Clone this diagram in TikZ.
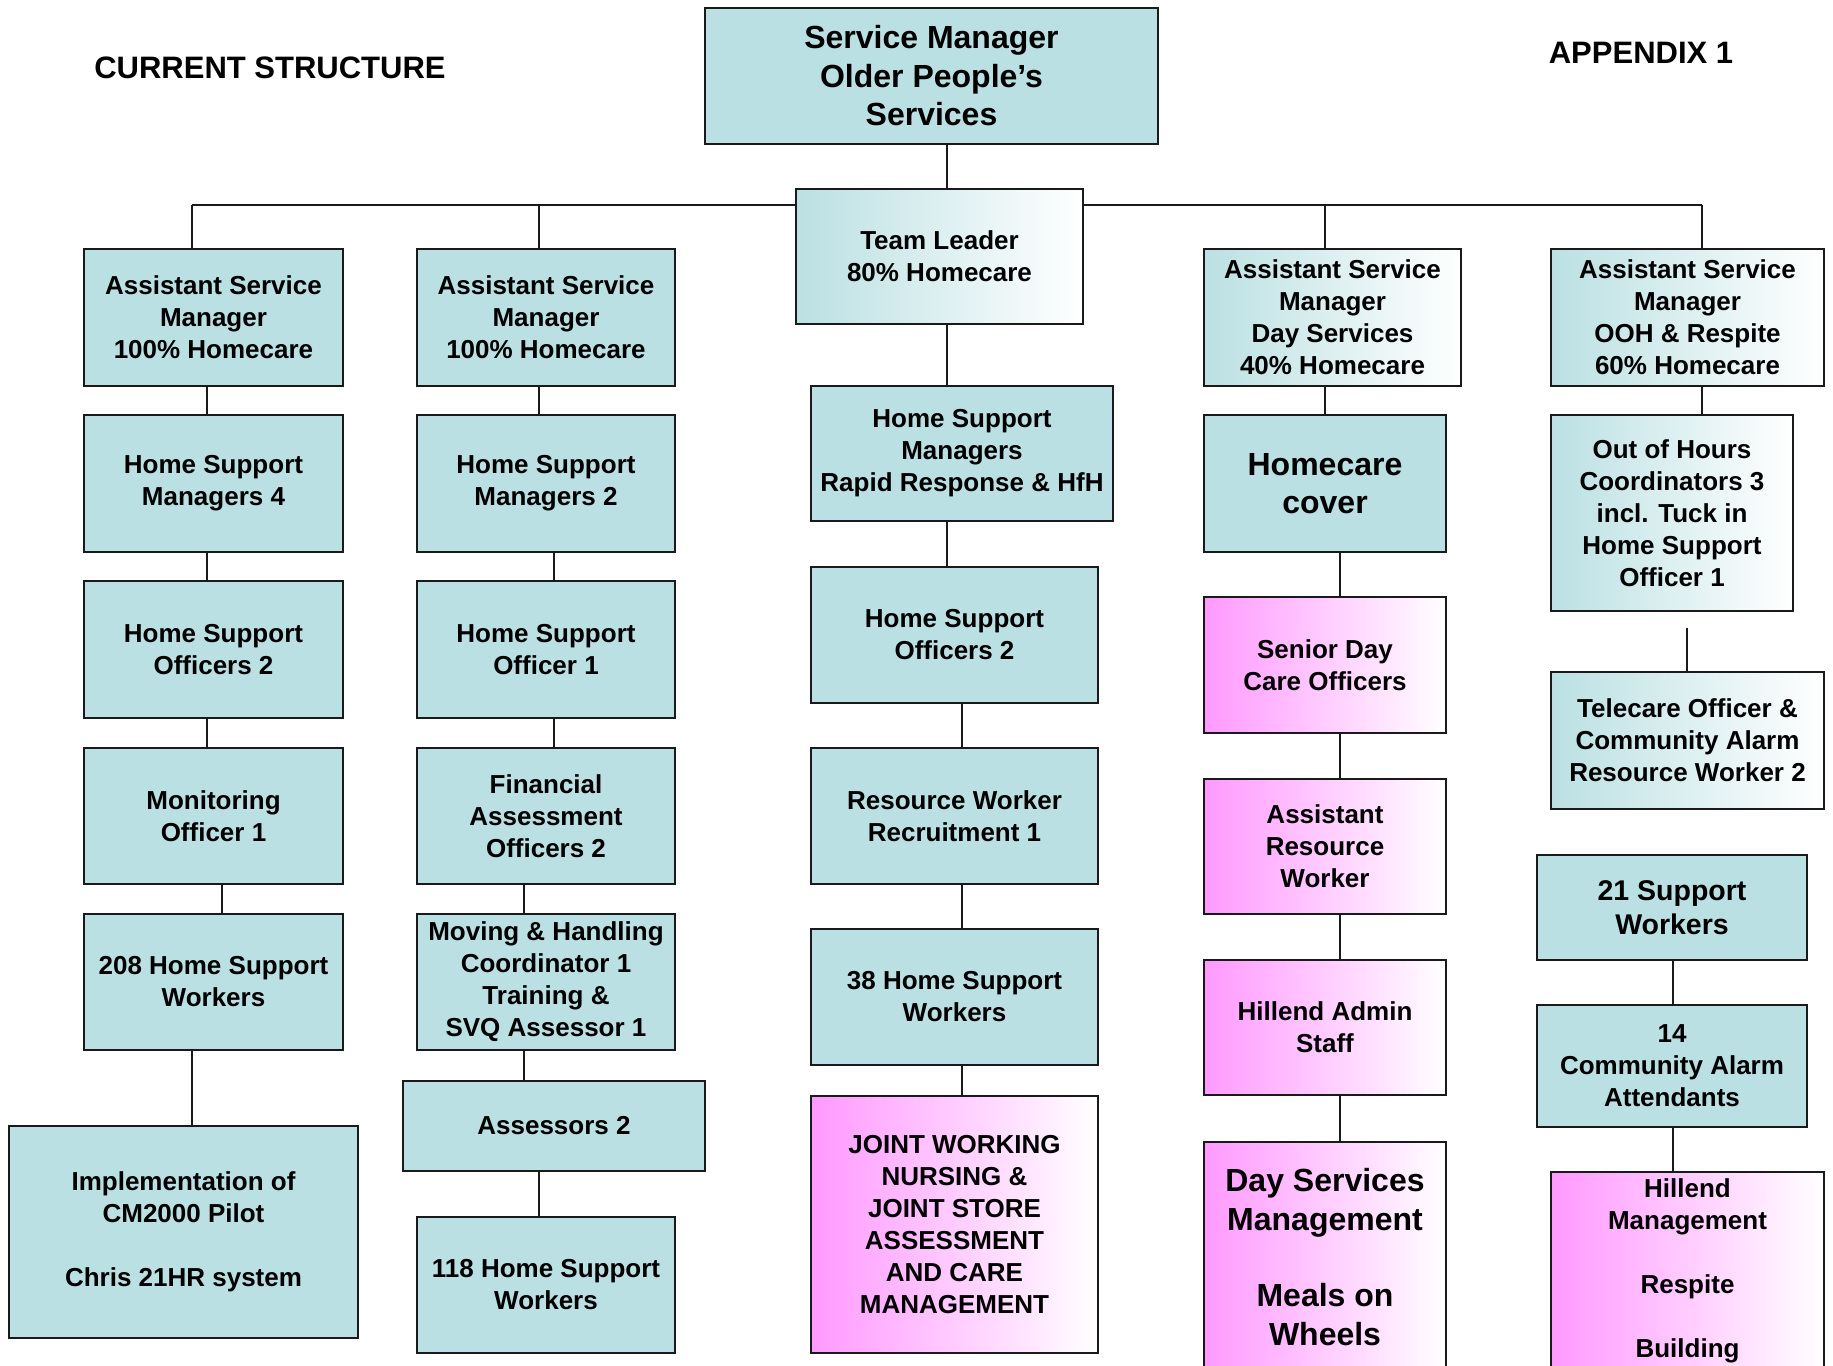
\documentclass[tikz,border=0pt]{standalone}
\usepackage{fontspec}
\setmainfont{Liberation Sans}
\usetikzlibrary{positioning}
\definecolor{Teal}{HTML}{BBE0E3}
\definecolor{Orchid}{HTML}{FF99FF}
\definecolor{Edge}{HTML}{1A1A1A}

\begin{document}
\begin{tikzpicture}[x=1pt,y=-1pt,
  frame/.style={draw=Edge,line width=1.6pt,align=center,inner sep=0pt,font=\bfseries\fontsize{26}{32}\selectfont},
  box/.style={frame,fill=Teal},
  fadebox/.style={frame,left color=Teal,right color=white},
  pinkbox/.style={frame,left color=Orchid,right color=white},
  big/.style={font=\bfseries\fontsize{32}{38.5}\selectfont},
  sz/.style 2 args={minimum width=#1pt,minimum height=#2pt},
  link/.style={line width=1.6pt,draw=Edge},
  heading/.style={font=\bfseries\fontsize{31}{37}\selectfont}]
\useasboundingbox[fill=white] (0,0) rectangle (1833,1365);

\node[heading] (cur) at (270,68) {CURRENT STRUCTURE};
\node[heading] (app) at (1641,53) {APPENDIX 1};

% top of the tree
\node[box,big,sz={453}{136}] (sm) at (931.5,76) {Service Manager\\Older People’s\\Services};
\node[fadebox,sz={287}{135}] (tl) at (939.5,256.5) {Team Leader\\80\% Homecare};

% first homecare team
\node[box,sz={259}{137}] (asmA) at (213.5,317.5) {Assistant Service\\Manager\\100\% Homecare};
\node[box,sz={259}{137}] (hsmA) at (213.5,483.5) {Home Support\\Managers 4};
\node[box,sz={259}{137}] (hsoA) at (213.5,649.5) {Home Support\\Officers 2};
\node[box,sz={259}{136}] (monA) at (213.5,816) {Monitoring\\Officer 1};
\node[box,sz={259}{136}] (hswA) at (213.5,982) {208 Home Support\\Workers};
\node[box,sz={349}{212}] (cmA) at (183.5,1232) {Implementation of\\CM2000 Pilot\\[32pt]Chris 21HR system};

% second homecare team
\node[box,sz={258}{137}] (asmB) at (546,317.5) {Assistant Service\\Manager\\100\% Homecare};
\node[box,sz={258}{137}] (hsmB) at (546,483.5) {Home Support\\Managers 2};
\node[box,sz={258}{137}] (hsoB) at (546,649.5) {Home Support\\Officer 1};
\node[box,sz={258}{136}] (finB) at (546,816) {Financial\\Assessment\\Officers 2};
\node[box,sz={258}{136}] (movB) at (546,982) {Moving \& Handling\\Coordinator 1\\Training \&\\SVQ Assessor 1};
\node[box,sz={302}{90}] (assB) at (554,1126) {Assessors 2};
\node[box,sz={258}{136}] (hswB) at (546,1285) {118 Home Support\\Workers};

% rapid response
\node[box,sz={302}{135}] (hsmC) at (962,453.5) {Home Support\\Managers\\Rapid Response \& HfH};
\node[box,sz={287}{136}] (hsoC) at (954.5,635) {Home Support\\Officers 2};
\node[box,sz={287}{136}] (rwC) at (954.5,816) {Resource Worker\\Recruitment 1};
\node[box,sz={287}{136}] (hswC) at (954.5,997) {38 Home Support\\Workers};
\node[pinkbox,sz={287}{257}] (jwC) at (954.5,1224.5) {JOINT WORKING\\NURSING \&\\JOINT STORE\\ASSESSMENT\\AND CARE\\MANAGEMENT};

% day services
\node[fadebox,sz={257}{137}] (asmD) at (1332.5,317.5) {Assistant Service\\Manager\\Day Services\\40\% Homecare};
\node[box,big,sz={242}{137}] (hcD) at (1325,483.5) {Homecare\\cover};
\node[pinkbox,sz={242}{136}] (sdD) at (1325,665) {Senior Day\\Care Officers};
\node[pinkbox,sz={242}{135}] (arD) at (1325,846.5) {Assistant\\Resource\\Worker};
\node[pinkbox,sz={242}{135}] (haD) at (1325,1027.5) {Hillend Admin\\Staff};
\node[pinkbox,big,sz={242}{230}] (dsD) at (1325,1257) {Day Services\\Management\\[38pt]Meals on\\Wheels};

% out of hours and respite
\node[fadebox,sz={273}{137}] (asmE) at (1687.5,317.5) {Assistant Service\\Manager\\OOH \& Respite\\60\% Homecare};
\node[fadebox,sz={242}{196}] (oohE) at (1672,513) {Out of Hours\\Coordinators 3\\incl. Tuck in\\Home Support\\Officer 1};
\node[fadebox,sz={273}{137}] (tcE) at (1687.5,740.5) {Telecare Officer \&\\Community Alarm\\Resource Worker 2};
\node[box,sz={270}{105},font=\bfseries\fontsize{28.5}{34}\selectfont] (spE) at (1672,907.5) {21 Support\\Workers};
\node[box,sz={270}{122}] (caE) at (1672,1066) {14\\Community Alarm\\Attendants};
\node[pinkbox,sz={273}{198}] (hmE) at (1687.5,1271) {Hillend\\Management\\[32pt]Respite\\[32pt]Building};

% connectors
\coordinate (busL) at (192,205); \coordinate (busR) at (1702,205);
\coordinate (tcTop) at (1687,628);
\draw[link] (busL) -- (tl.west |- busL) (tl.east |- busR) -- (busR);
\foreach \n/\x in {asmA/192,asmB/539,asmD/1325,asmE/1702}
  \draw[link] (\x,205) -- (\n.north -| \x,0);
\foreach \a/\b/\x in {sm/tl/947,tl/hsmC/947,hsmC/hsoC/947,hsoC/rwC/962,rwC/hswC/962,hswC/jwC/962,
  asmA/hsmA/207,hsmA/hsoA/207,hsoA/monA/207,monA/hswA/222,hswA/cmA/192,
  asmB/hsmB/539,hsmB/hsoB/554,hsoB/finB/554,finB/movB/524,movB/assB/524,assB/hswB/539,
  asmD/hcD/1325,hcD/sdD/1340,sdD/arD/1340,arD/haD/1340,haD/dsD/1340,
  asmE/oohE/1702,spE/caE/1673,caE/hmE/1673}
  \draw[link] (\a.south -| \x,0) -- (\b.north -| \x,0);
\draw[link] (tcTop) -- (tcE.north -| tcTop);

\end{tikzpicture}
\end{document}
